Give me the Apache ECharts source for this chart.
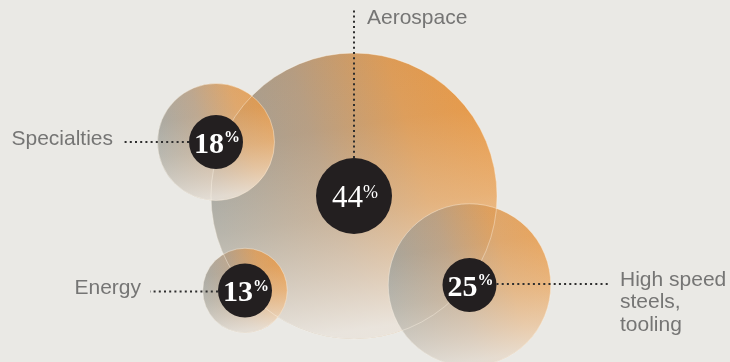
<!DOCTYPE html>
<html>
<head>
<meta charset="utf-8">
<script src="https://cdn.jsdelivr.net/npm/echarts@6/dist/echarts.min.js"></script>
<style>
  html, body { margin: 0; padding: 0; background: #eae9e5; }
  #chart { width: 730px; height: 362px; }
</style>
</head>
<body>
<div id="chart"></div>
<script>
// Market segments and their share of sales (%)
const segments = ['Aerospace', 'Specialties', 'Energy', 'High speed\nsteels,\ntooling'];
const shares = [44, 18, 13, 25];

// Bubble layout in pixel space (x, y of each bubble centre)
const bubbleCentres = [[354, 196], [216, 142], [245, 290.5], [469.5, 285]];
// Where each dotted leader ends, and which way it leaves the bubble
const leaderEnds = [[354, 8], [122, 142], [150, 291.5], [610, 284]];
const leaderSides = ['top', 'left', 'left', 'right'];

const PX_PER_POINT = 6.5;           // bubble diameter per percentage point
const discSize = s => (s >= 40 ? 76 : 54);

function bubbleFill() {
  return {
    type: 'linear', x: 0, y: 0.5, x2: 1, y2: 0.2,
    colorStops: [
      { offset: 0, color: '#999d99' },
      { offset: 0.38, color: '#b49b80' },
      { offset: 0.7, color: '#dc9a55' },
      { offset: 1, color: '#e8953e' }
    ]
  };
}
function bubbleHaze() {
  return {
    type: 'linear', x: 0.15, y: 0, x2: 0.3, y2: 1,
    colorStops: [
      { offset: 0, color: 'rgba(240,230,218,0)' },
      { offset: 0.3, color: 'rgba(242,226,206,0.06)' },
      { offset: 0.6, color: 'rgba(242,226,206,0.35)' },
      { offset: 0.82, color: 'rgba(240,230,218,0.65)' },
      { offset: 1, color: 'rgba(238,234,228,0.92)' }
    ]
  };
}

// the largest bubble sits underneath and is opaque; the others let it show through a little
const bubbleOpacity = s => (s >= 40 ? 1 : 0.86);

// each bubble is a tinted disc followed by its own pale haze, so later bubbles stay clean
const bubbleData = [];
shares.forEach((s, i) => {
  bubbleData.push({
    value: bubbleCentres[i], symbolSize: s * PX_PER_POINT,
    itemStyle: { color: bubbleFill(), opacity: bubbleOpacity(s) }
  });
  bubbleData.push({
    value: bubbleCentres[i], symbolSize: s * PX_PER_POINT,
    itemStyle: { color: bubbleHaze(), opacity: bubbleOpacity(s) }
  });
});

// Leaders start at the edge of the dark disc
const leaderSeries = shares.map((s, i) => {
  const [cx, cy] = bubbleCentres[i];
  const r = discSize(s) / 2;
  const side = leaderSides[i];
  const end = leaderEnds[i];
  let start;
  if (side === 'top') start = [cx, cy - r];
  else if (side === 'left') start = [cx - r, end[1]];
  else start = [cx + r, end[1]];
  return {
    type: 'line', data: [start, end], symbol: 'none', silent: true, z: 4,
    lineStyle: { color: '#2e2e2e', width: 2, type: [2, 3.2], opacity: 1 }
  };
});

const labelPlacement = {
  top:   { position: [13, 10], align: 'left', verticalAlign: 'middle' },
  left:  { position: [-9, -3], align: 'right', verticalAlign: 'middle' },
  right: { position: [10, -15.5], align: 'left', verticalAlign: 'top' }
};

const option = {
  backgroundColor: '#eae9e5',
  animation: false,
  grid: { left: 0, right: 0, top: 0, bottom: 0 },
  xAxis: { type: 'value', min: 0, max: 730, show: false },
  yAxis: { type: 'value', min: 0, max: 362, inverse: true, show: false },
  series: [
    { type: 'scatter', z: 1, silent: true, symbol: 'circle', data: bubbleData },
    // faint rims where bubbles overlap
    {
      type: 'scatter', z: 3, silent: true, symbol: 'circle',
      data: shares.map((s, i) => ({ value: bubbleCentres[i], symbolSize: s * PX_PER_POINT })),
      itemStyle: { color: 'rgba(0,0,0,0)', borderColor: 'rgba(255,248,236,0.4)', borderWidth: 1, opacity: 1 }
    },
    ...leaderSeries,
    // dark discs with the share
    {
      type: 'scatter', z: 5, silent: true, symbol: 'circle',
      data: shares.map((s, i) => ({ value: bubbleCentres[i], symbolSize: discSize(s), share: s })),
      itemStyle: { color: '#231f20', opacity: 1 },
      label: {
        show: true, position: 'inside', offset: [1, 3],
        formatter: p => (p.data.share >= 40 ? '{m|' + p.data.share + '}{q|%}' : '{n|' + p.data.share + '}{p|%}'),
        rich: {
          n: { fontFamily: 'Liberation Serif', fontWeight: 'bold', fontSize: 30, color: '#fff', lineHeight: 30 },
          p: { fontFamily: 'Liberation Serif', fontWeight: 'bold', fontSize: 16, color: '#fff', verticalAlign: 'top', lineHeight: 16, padding: [0, 0, 16, 0] },
          m: { fontFamily: 'Liberation Serif', fontWeight: 'normal', fontSize: 31, color: '#fff', lineHeight: 30 },
          q: { fontFamily: 'Liberation Serif', fontWeight: 'normal', fontSize: 18, color: '#fff', verticalAlign: 'top', lineHeight: 18, padding: [0, 0, 14, 0] }
        }
      }
    },
    // segment names at the ends of the leaders
    {
      type: 'scatter', z: 6, silent: true, symbolSize: 0,
      data: segments.map((name, i) => ({
        value: leaderEnds[i], name,
        label: Object.assign({}, labelPlacement[leaderSides[i]])
      })),
      label: {
        show: true, formatter: p => p.name,
        fontFamily: 'Liberation Sans', fontSize: 21, color: '#585858', lineHeight: 22.5
      }
    }
  ]
};

echarts.init(document.getElementById('chart'), null, { renderer: 'canvas' }).setOption(option);
</script>
</body>
</html>
